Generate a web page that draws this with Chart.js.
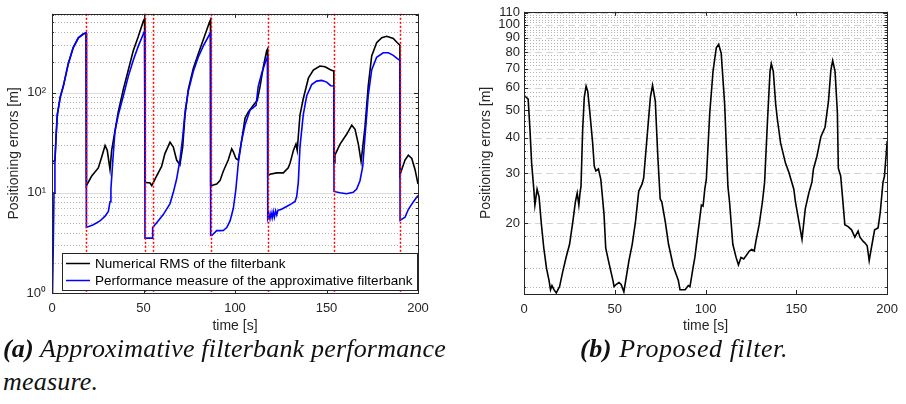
<!DOCTYPE html>
<html><head><meta charset="utf-8">
<script src="https://cdn.jsdelivr.net/npm/chart.js@4.4.1/dist/chart.umd.min.js"></script>
<style>
body{margin:0;background:#fff;width:906px;height:404px;overflow:hidden;position:relative}
canvas{position:absolute;top:0}
#ca{left:0}
#cb{left:453px}
.cap{position:absolute;font-family:'Liberation Serif','Times New Roman',serif;font-style:italic;font-size:26px;line-height:1;color:#111;white-space:nowrap}
.cap b{font-weight:bold}
</style></head>
<body>
<canvas id="ca" width="453" height="335"></canvas>
<canvas id="cb" width="453" height="335"></canvas>
<div class="cap" id="capA1"><b>(a)</b> Approximative filterbank performance</div>
<div class="cap" id="capA2">measure.</div>
<div class="cap" id="capB"><b>(b)</b> Proposed filter.</div>
<script>
// ---------- data: chart (a) ----------
const xTicks = [0, 50, 100, 150, 200];
const yTickValsA = [1, 10, 100];
const yTickLabelsA = ['10\u2070', '10\u00B9', '10\u00B2'];
const eventTimesA = [18.6, 50.8, 55.0, 86.7, 117.9, 154.1, 190.2];
const seriesLabelsA = ['Numerical RMS of the filterbank', 'Performance measure of the approximative filterbank'];

const tBlackA = [0,1.6,2.2,2.9,4.5,6.2,8.9,11.6,14.4,17.1,18.3,18.6,18.6,19.0,21.7,25.3,27.2,29.0,30.2,31.7,32.6,34.4,36.2,39.0,41.7,44.4,47.2,49.9,50.6,50.8,53.6,54.5,57.2,59.9,61.7,64.5,66.3,68.1,69.9,71.4,72.7,74.5,77.2,79.9,82.7,86.0,86.6,86.7,87.3,90.0,91.8,93.6,96.3,98.2,99.1,100.5,101.8,103.6,105.5,107.3,110.0,112.2,113.7,115.5,117.3,117.8,117.9,119.1,122.8,126.4,129.1,130.1,131.0,131.9,133.3,134.0,135.5,137.3,140.1,142.8,146.4,149.2,151.9,153.4,154.0,154.1,154.6,157.4,161.0,163.8,165.6,167.4,168.9,171.0,172.8,174.7,177.4,180.2,182.9,186.5,188.7,190.1,190.2,190.6,192.9,194.7,196.6,198.4,200];
const blackA = [20.2,21,36,60,90,116,194,281,351,383,392,392,11.8,11.8,14.7,17.7,22.9,29.6,26.5,17.0,26.5,41.2,64.2,108,168,261,364,515,545,12.7,12.5,11.8,14.7,18.3,24.6,31.9,28.5,21.2,19.0,28.5,59.6,108,174,242,338,500,530,11.8,11.8,12.2,13.2,16.4,21.2,27.5,25.6,22.0,21.2,33.0,55.6,64.2,74.6,83.5,115,181,261,272,14.7,15.3,15.8,15.8,17.7,19.8,22.8,26.4,30.6,26.4,59.6,86.6,139,167,184,181,170,165,165,19.8,23.7,30.6,38.3,47.2,42.9,30.6,20.5,44.6,116,232,314,352,364,346,314,297,15.2,15.2,21.2,23.7,22.0,17.0,12.2];

const tBlueA = [0,0.3,0.7,1.1,1.6,2.2,2.9,4.5,6.2,8.9,11.6,14.4,17.1,18.3,18.6,18.6,19.0,22.6,26.2,29.0,30.8,31.7,32.2,33.5,34.4,36.2,39.0,41.7,44.4,47.2,49.9,50.6,50.8,54.8,55.0,57.2,60.8,64.5,66.3,68.1,69.9,71.4,72.7,74.5,77.2,79.9,82.7,86.0,86.6,86.7,87.3,90.0,91.8,93.6,95.5,97.3,99.1,100.5,101.8,103.6,105.5,108.2,111.5,112.7,114.6,116.9,117.8,117.9,118.5,119.1,119.7,120.3,120.9,121.5,122.2,122.8,123.5,125.2,128.2,131.0,132.8,133.7,134.6,135.5,137.3,139.2,141.9,144.6,147.4,150.1,152.3,154.0,154.1,154.6,157.4,161.0,164.6,166.5,168.3,169.8,171.0,172.8,174.7,177.4,181.0,183.8,186.5,188.7,190.1,190.2,190.6,192.9,194.7,197.4,200];
const blueA = [0.9,1.0,3,10,20,36,60,90,116,194,281,351,383,392,392,4.5,4.51,4.79,5.23,5.84,6.52,8.14,10.9,24.6,41,59.7,93,145,210,292,383,410,3.53,3.53,4.5,5.03,6.06,7.8,10.1,13.7,21.2,35.6,64.2,103.6,162,225,292,377,395,3.75,3.75,4.19,4.19,4.2,4.5,5.23,7.0,10.9,19.7,33,47.6,66.6,74.6,115,156,209,225,5.62,6.2,5.5,6.3,5.6,6.5,5.7,6.6,6.0,6.7,6.8,7.3,7.8,8.2,9.1,12.7,28.5,59.7,93,120,130,132,127,117,116,10.3,10.3,10.0,9.78,10.1,10.9,13.2,18.3,35.6,93,168,225,249,249,235,218,210,5.3,5.3,5.7,6.8,8.1,9.4];

// ---------- data: chart (b) ----------
const yTickValsB = [20, 30, 40, 50, 60, 70, 80, 90, 100, 110];
const seriesLabelB = 'Proposed filter';
const tB = [0,2.3,3.3,4.2,5.4,6.0,7.2,8.3,9.6,10.9,12.4,13.8,14.6,15.4,16.5,17.8,18.7,19.6,21.4,23.3,25.1,26.9,28.3,29.3,30.2,30.9,31.4,32.3,33.2,34.2,35.1,36.3,37.8,38.7,39.6,41.0,42.3,43.3,44.1,45.0,46.5,47.8,49.0,49.6,50.7,52.3,53.5,55.0,56.0,57.8,59.6,61.4,63.2,65.0,65.9,67.8,69.6,70.8,72.3,73.7,75.0,75.9,77.8,79.6,82.3,85.0,85.9,88.7,90.5,91.4,93.2,94.1,95.9,97.7,98.6,99.6,100.4,102.3,104.1,105.9,107.2,108.6,110.5,112.3,113.2,115.0,116.8,118.1,119.5,121.0,122.3,124.1,125.4,126.8,127.7,129.5,131.3,132.5,134.1,135.5,136.2,137.3,138.6,139.5,141.3,144.0,145.9,148.6,149.5,151.4,153.1,154.9,156.8,158.6,159.4,161.3,163.5,165.8,167.7,169.0,170.0,171.3,172.6,173.1,174.4,175.5,176.7,178.5,180.4,182.2,184.0,185.0,186.8,187.7,189.0,190.1,191.3,193.1,195.0,196.2,197.7,198.5,199.8,200];
const valB = [56.5,54.7,42.6,32.6,26.4,23.2,26.4,24.8,19.8,16.4,13.9,12.6,11.7,12.1,11.7,11.4,11.7,12.0,13.6,15.3,16.9,20.3,23.8,25.6,23.2,25.8,27,42.6,55.5,60.8,58.4,48.9,38.4,31.8,30.6,31.1,28.6,24.4,21.4,16.4,14.8,13.6,12.6,12.0,12.2,12.4,12.2,11.5,12.6,14.8,16.9,20.3,26.0,27.5,28.9,40.4,55.5,61.2,54.0,34.4,24.4,23.8,20.3,16.9,14.1,12.6,11.7,11.7,12.1,12.0,14.1,15.2,18.8,23.2,23.0,26.5,28.5,48.9,68.5,83.0,85.3,79.4,52.6,27.0,23.8,16.9,15.2,14.3,15.2,15.0,15.4,16.0,16.2,16.0,17.3,19.8,23.8,27.9,46.0,68.5,73.0,68.5,52.6,46.7,38.4,32.6,30.2,26.4,23.8,20.3,17.6,22.5,25.5,28.0,31.1,34.4,40.4,43.6,54.0,69.3,74.7,68.5,48.9,31.3,29.4,24.4,19.8,19.5,19.0,17.9,18.8,17.9,17.3,17.1,16.7,14.8,16.4,19.0,19.3,21.9,27.9,29.3,37.3,39.0];

// ---------- drawing ----------
Chart.defaults.font.family = "'Liberation Sans', Arial, Helvetica, sans-serif";
const AX = '#262626';

function hline(ctx, a, y, color, dash, w) {
  const yy = Math.round(y) + 0.5;
  ctx.save(); ctx.beginPath(); ctx.setLineDash(dash); ctx.strokeStyle = color; ctx.lineWidth = w;
  ctx.moveTo(a.left, yy); ctx.lineTo(a.right, yy); ctx.stroke(); ctx.restore();
}
function drawBoxAndTicks(chart, yMajor, yMinor) {
  const {ctx, chartArea: a, scales: {x, y}} = chart;
  ctx.save();
  ctx.strokeStyle = AX; ctx.lineWidth = 1; ctx.setLineDash([]);
  ctx.beginPath();
  for (const v of xTicks) {
    const px = Math.round(x.getPixelForValue(v)) + 0.5;
    ctx.moveTo(px, a.bottom); ctx.lineTo(px, a.bottom - 4);
    ctx.moveTo(px, a.top); ctx.lineTo(px, a.top + 4);
  }
  for (const v of yMajor) {
    const py = Math.round(y.getPixelForValue(v)) + 0.5;
    ctx.moveTo(a.left, py); ctx.lineTo(a.left + 4, py);
    ctx.moveTo(a.right, py); ctx.lineTo(a.right - 4, py);
  }
  for (const v of yMinor) {
    const py = Math.round(y.getPixelForValue(v)) + 0.5;
    ctx.moveTo(a.left, py); ctx.lineTo(a.left + 2, py);
    ctx.moveTo(a.right, py); ctx.lineTo(a.right - 2, py);
  }
  ctx.stroke();
  ctx.strokeRect(Math.round(a.left) + 0.5, Math.round(a.top) + 0.5, Math.round(a.right - a.left), Math.round(a.bottom - a.top));
  ctx.restore();
}

// minor gridlines (a): 2..9 x decade
const minorA = [];
for (const d of [1, 10, 100]) for (let m = 2; m <= 9; m++) if (m * d < 610) minorA.push(m * d);
// minor gridlines (b): every 2
const minorB = [];
for (let v = 12; v <= 110; v += 2) if (v % 10 !== 0) minorB.push(v);

const plugA = {
  id: 'decorA',
  beforeDatasetsDraw(chart) {
    const {ctx, chartArea: a, scales: {y}} = chart;
    for (const v of minorA) hline(ctx, a, y.getPixelForValue(v), '#b4b4b4', [1, 2], 1);
    for (const v of [10, 100]) hline(ctx, a, y.getPixelForValue(v), '#dcdcdc', [], 1);
  },
  afterDatasetsDraw(chart) {
    const {ctx, chartArea: a, scales: {x}} = chart;
    ctx.save();
    ctx.strokeStyle = '#ff0000'; ctx.lineWidth = 1.5; ctx.setLineDash([2, 2]);
    for (const t of eventTimesA) {
      const px = Math.round(x.getPixelForValue(t)) + 0.5;
      ctx.beginPath(); ctx.moveTo(px, a.top); ctx.lineTo(px, a.bottom); ctx.stroke();
    }
    ctx.restore();
    drawBoxAndTicks(chart, yTickValsA, minorA);
    // legend
    ctx.save();
    ctx.fillStyle = '#fff'; ctx.fillRect(62, 253, 356, 38);
    ctx.strokeStyle = AX; ctx.lineWidth = 1; ctx.strokeRect(62.5, 253.5, 355, 37);
    const ds = chart.data.datasets;
    const rows = [263.5, 280.5];
    ds.forEach((d, i) => {
      ctx.strokeStyle = d.borderColor; ctx.lineWidth = 1.5;
      ctx.beginPath(); ctx.moveTo(66, rows[i]); ctx.lineTo(90, rows[i]); ctx.stroke();
      ctx.fillStyle = '#000'; ctx.font = "13.5px 'Liberation Sans', Arial, sans-serif";
      ctx.textBaseline = 'middle'; ctx.textAlign = 'left';
      ctx.fillText(d.label, 95, rows[i] + 0.5);
    });
    ctx.restore();
  }
};

const plugB = {
  id: 'decorB',
  beforeDatasetsDraw(chart) {
    const {ctx, chartArea: a, scales: {y}} = chart;
    for (const v of minorB) hline(ctx, a, y.getPixelForValue(v), '#b4b4b4', [1, 2], 1);
    for (const v of yTickValsB) hline(ctx, a, y.getPixelForValue(v), '#d4d4d4', [7, 4], 1);
  },
  afterDatasetsDraw(chart) {
    drawBoxAndTicks(chart, yTickValsB, minorB);
  }
};

function xScale(h) {
  return {
    type: 'linear', min: 0, max: 200,
    afterBuildTicks: s => { s.ticks = xTicks.map(v => ({value: v})); },
    ticks: {font: {size: 13}, color: AX, padding: 8, maxRotation: 0, autoSkip: false},
    grid: {display: false, drawTicks: false}, border: {display: false},
    title: {display: true, text: 'time [s]', font: {size: 14}, color: AX, padding: {top: 0, bottom: 0}},
    afterFit: s => { s.height = h; }
  };
}

new Chart(document.getElementById('ca'), {
  type: 'scatter',
  data: {datasets: [
    {label: seriesLabelsA[0], data: tBlackA.map((t, i) => ({x: t, y: blackA[i]})), showLine: true, borderColor: '#000000', borderWidth: 1.6, pointRadius: 0, order: 2},
    {label: seriesLabelsA[1], data: tBlueA.map((t, i) => ({x: t, y: blueA[i]})), showLine: true, borderColor: '#0000ff', borderWidth: 1.6, pointRadius: 0, order: 1}
  ]},
  options: {
    responsive: false, animation: false, devicePixelRatio: 1,
    layout: {padding: {left: 0, top: 5, right: 35, bottom: 0}},
    plugins: {legend: {display: false}, tooltip: {enabled: false}},
    scales: {
      x: xScale(42),
      y: {
        type: 'logarithmic', min: 1, max: 610,
        afterBuildTicks: s => { s.ticks = yTickValsA.map(v => ({value: v, major: true})); },
        ticks: {callback: v => yTickLabelsA[yTickValsA.indexOf(v)] ?? '', font: {size: 13}, color: AX, padding: 6, autoSkip: false},
        grid: {display: false, drawTicks: false}, border: {display: false},
        title: {display: true, text: 'Positioning errors [m]', font: {size: 14}, color: AX, padding: {top: 6, bottom: 0}},
        afterFit: s => { s.width = 52; }
      }
    }
  },
  plugins: [plugA]
});

new Chart(document.getElementById('cb'), {
  type: 'scatter',
  data: {datasets: [
    {label: seriesLabelB, data: tB.map((t, i) => ({x: t, y: valB[i]})), showLine: true, borderColor: '#000000', borderWidth: 1.6, pointRadius: 0}
  ]},
  options: {
    responsive: false, animation: false, devicePixelRatio: 1,
    layout: {padding: {left: 0, top: 5, right: 15, bottom: 0}},
    plugins: {legend: {display: false}, tooltip: {enabled: false}},
    scales: {
      x: xScale(41),
      y: {
        type: 'logarithmic', min: 11.3, max: 111,
        afterBuildTicks: s => { s.ticks = yTickValsB.map(v => ({value: v, major: true})); },
        ticks: {callback: v => String(v), font: {size: 13}, color: AX, padding: 4, autoSkip: false},
        grid: {display: false, drawTicks: false}, border: {display: false},
        title: {display: true, text: 'Positioning errors [m]', font: {size: 14}, color: AX, padding: {top: 25, bottom: 0}},
        afterFit: s => { s.width = 71; }
      }
    }
  },
  plugins: [plugB]
});

// captions: fit widths with letter spacing
function place(el, left, cy, targetW) {
  el.style.left = left + 'px';
  if (targetW) {
    const w = el.getBoundingClientRect().width;
    const n = el.textContent.length;
    el.style.letterSpacing = ((targetW - w) / n) + 'px';
  }
  const h = el.getBoundingClientRect().height;
  el.style.top = (cy - h / 2) + 'px';
}
const a1 = document.getElementById('capA1');
place(a1, 3, 349, 443);
const a2 = document.getElementById('capA2');
a2.style.letterSpacing = a1.style.letterSpacing;
place(a2, 3, 382, 0);
place(document.getElementById('capB'), 580, 349, 208);
</script>
</body></html>
